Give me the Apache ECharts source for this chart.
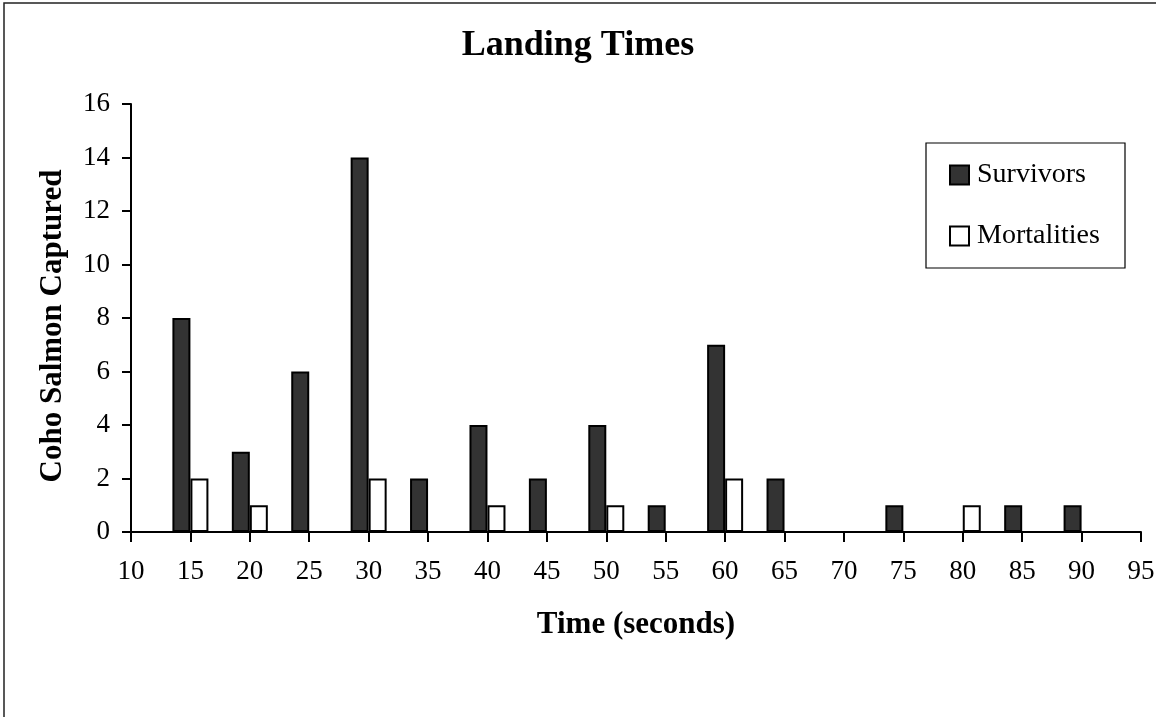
<!DOCTYPE html>
<html>
<head>
<meta charset="utf-8">
<title>Landing Times</title>
<script src="https://cdn.jsdelivr.net/npm/echarts@6/dist/echarts.min.js"></script>
<style>
  html, body { margin: 0; padding: 0; background: #fff; }
  #chart { width: 1156px; height: 717px; }
</style>
</head>
<body>
<div id="chart"></div>
<script>
// Landing time bins (seconds)
const timeBins = ['10', '15', '20', '25', '30', '35', '40', '45', '50', '55', '60', '65', '70', '75', '80', '85', '90', '95'];
// Coho salmon captured per landing-time bin
const survivors   = [null, 8, 3, 6, 14, 2, 4, 2, 4, 1, 7, 2, null, 1, null, 1, 1, null];
const mortalities = [null, 2, 1, null, 2, null, 1, null, 1, null, 2, null, null, null, 1, null, null, null];
// Count axis ticks
const countMin = 0;
const countMax = 16;
const countStep = 2;

const FONT = "'Liberation Serif', 'Times New Roman', serif";

const chart = echarts.init(document.getElementById('chart'), null, { renderer: 'canvas' });

chart.setOption({
  backgroundColor: '#ffffff',
  animation: false,
  title: {
    text: 'Landing Times',
    left: 'center',
    top: 28,
    padding: 0,
    textStyle: { fontFamily: FONT, fontSize: 36, fontWeight: 'bold', color: '#000' }
  },
  graphic: [
    {
      // outer chart frame
      type: 'rect',
      shape: { x: 4, y: 3, width: 1300, height: 900 },
      style: { fill: 'none', stroke: '#222', lineWidth: 1.5 },
      silent: true,
      z: 0
    },
    {
      // legend frame
      type: 'rect',
      shape: { x: 926, y: 143, width: 199, height: 125 },
      style: { fill: '#fff', stroke: '#000', lineWidth: 1.2 },
      silent: true,
      z: 1
    }
  ],
  legend: {
    orient: 'vertical',
    left: 949,
    top: 161,
    padding: 0,
    itemWidth: 19,
    itemHeight: 19,
    itemGap: 33,
    icon: 'rect',
    z: 5,
    textStyle: { fontFamily: FONT, fontSize: 28, color: '#000', padding: [0, 0, 0, 3] },
    data: ['Survivors', 'Mortalities']
  },
  grid: {
    left: 131,
    right: 15,
    top: 104,
    bottom: 185,
    containLabel: false,
    outerBoundsMode: 'none'
  },
  xAxis: {
    type: 'category',
    data: timeBins,
    boundaryGap: false,
    name: 'Time (seconds)',
    nameLocation: 'middle',
    nameGap: 77,
    nameTextStyle: { fontFamily: FONT, fontSize: 31, fontWeight: 'bold', color: '#000' },
    axisLine: { show: true, lineStyle: { color: '#000', width: 2 } },
    axisTick: { show: true, inside: false, length: 10, interval: 0, alignWithLabel: true, lineStyle: { color: '#000', width: 2 } },
    axisLabel: { interval: 0, margin: 26, fontFamily: FONT, fontSize: 27, color: '#000' },
    splitLine: { show: false }
  },
  yAxis: {
    type: 'value',
    min: countMin,
    max: countMax,
    interval: countStep,
    name: 'Coho Salmon Captured',
    nameLocation: 'middle',
    nameGap: 63,
    nameRotate: 90,
    nameTextStyle: { fontFamily: FONT, fontSize: 31, fontWeight: 'bold', color: '#000', padding: [0, 16, 0, 0] },
    axisLine: { show: true, lineStyle: { color: '#000', width: 2 } },
    axisTick: { show: true, inside: false, length: 9, lineStyle: { color: '#000', width: 2 } },
    axisLabel: { margin: 21, fontFamily: FONT, fontSize: 27, color: '#000' },
    splitLine: { show: false }
  },
  series: [
    {
      name: 'Survivors',
      type: 'bar',
      data: survivors,
      barWidth: 18,
      barGap: '0%',
      itemStyle: { color: '#333333', borderColor: '#000', borderWidth: 2 }
    },
    {
      name: 'Mortalities',
      type: 'bar',
      data: mortalities,
      barWidth: 18,
      barGap: '0%',
      itemStyle: { color: '#ffffff', borderColor: '#000', borderWidth: 2 }
    }
  ]
});
</script>
</body>
</html>
